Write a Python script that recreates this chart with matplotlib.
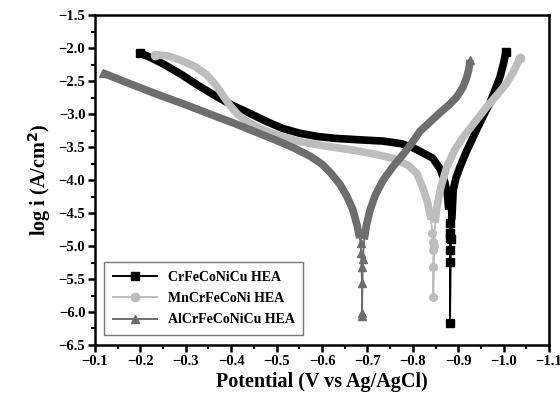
import matplotlib
matplotlib.use("Agg")
import matplotlib.pyplot as plt
from matplotlib.ticker import MultipleLocator, FuncFormatter

plt.rcParams["font.family"] = ["Liberation Serif", "DejaVu Serif"]
plt.rcParams["font.weight"] = "bold"

# --- data (potential V vs Ag/AgCl, log i) ---
# each curve: dense left arm, sparse points near Ecorr, dense right arm
cu_left_x = [-0.200, -0.221, -0.250, -0.290, -0.330, -0.369, -0.400, -0.441, -0.480, -0.514, -0.550,
             -0.589, -0.630, -0.680, -0.734, -0.775, -0.800, -0.820, -0.844, -0.860, -0.870,
             -0.876, -0.879]
cu_left_y = [-2.08, -2.14, -2.24, -2.40, -2.58, -2.74, -2.86, -2.99, -3.12, -3.22, -3.29,
             -3.34, -3.37, -3.39, -3.41, -3.45, -3.51, -3.58, -3.67, -3.83, -4.02,
             -4.20, -4.45]
cu_tail_x = [-0.881, -0.882, -0.882, -0.882, -0.882, -0.882, -0.884]
cu_tail_y = [-4.65, -4.80, -4.88, -5.06, -5.24, -6.17, -4.90]
cu_right_x = [-0.886, -0.889, -0.895, -0.904, -0.918, -0.933, -0.950, -0.970, -0.982, -0.992,
              -1.000, -1.005]
cu_right_y = [-4.60, -4.15, -3.97, -3.80, -3.57, -3.35, -3.10, -2.83, -2.62, -2.44,
              -2.23, -2.06]

mn_left_x = [-0.232, -0.260, -0.287, -0.320, -0.345, -0.365, -0.380, -0.397, -0.415, -0.441, -0.470,
             -0.510, -0.552, -0.611, -0.662, -0.710, -0.756, -0.790, -0.809, -0.822, -0.833,
             -0.840]
mn_left_y = [-2.10, -2.12, -2.18, -2.28, -2.40, -2.55, -2.70, -2.87, -3.01, -3.14, -3.24,
             -3.34, -3.42, -3.49, -3.54, -3.60, -3.67, -3.78, -3.90, -4.12, -4.35,
             -4.60]
mn_tail_x = [-0.843, -0.844, -0.845, -0.845, -0.845, -0.847]
mn_tail_y = [-4.80, -4.94, -5.06, -5.32, -5.77, -5.00]
mn_right_x = [-0.849, -0.853, -0.862, -0.875, -0.892, -0.911, -0.937, -0.963, -0.987, -1.007,
              -1.022, -1.036]
mn_right_y = [-4.65, -4.41, -4.10, -3.80, -3.55, -3.35, -3.12, -2.89, -2.70, -2.53,
              -2.36, -2.15]

al_left_x = [-0.118, -0.180, -0.240, -0.300, -0.360, -0.410, -0.460, -0.500, -0.540, -0.574,
             -0.600, -0.620, -0.640, -0.655, -0.668, -0.677, -0.683]
al_left_y = [-2.38, -2.55, -2.71, -2.86, -3.02, -3.15, -3.29, -3.40, -3.52, -3.64,
             -3.76, -3.90, -4.07, -4.25, -4.45, -4.68, -4.88]
al_tail_x = [-0.685, -0.686, -0.687, -0.688, -0.688, -0.688, -0.690]
al_tail_y = [-4.95, -5.10, -5.32, -5.56, -6.02, -6.06, -5.20]
al_right_x = [-0.693, -0.698, -0.706, -0.718, -0.735, -0.756, -0.780, -0.800, -0.816, -0.838,
              -0.860, -0.880, -0.897, -0.910, -0.919, -0.924, -0.926]
al_right_y = [-4.90, -4.68, -4.45, -4.22, -4.00, -3.80, -3.60, -3.42, -3.26, -3.12,
              -2.98, -2.86, -2.74, -2.60, -2.44, -2.30, -2.18]

series = [
    ("CrFeCoNiCu HEA", cu_left_x, cu_left_y, cu_tail_x, cu_tail_y, cu_right_x, cu_right_y,
     "#000000", "s"),
    ("MnCrFeCoNi HEA", mn_left_x, mn_left_y, mn_tail_x, mn_tail_y, mn_right_x, mn_right_y,
     "#bdbdbd", "o"),
    ("AlCrFeCoNiCu HEA", al_left_x, al_left_y, al_tail_x, al_tail_y, al_right_x, al_right_y,
     "#6e6e6e", "^"),
]

fig = plt.figure(figsize=(5.6, 4.0), dpi=100)
ax = fig.add_axes([0.1696, 0.1375, 0.8108, 0.825])

for label, lx, ly, tx, ty, rx, ry, col, mk in series:
    # thin line + separated markers around the corrosion potential
    ax.plot([lx[-1]] + tx + [rx[0]], [ly[-1]] + ty + [ry[0]], color=col, lw=1.3,
            marker=mk, ms=5.5, markeredgecolor=col, markevery=list(range(1, len(tx) + 1)))
    # thick bands where the dense markers overlap
    ax.plot(lx, ly, color=col, lw=5.5, solid_capstyle="butt", solid_joinstyle="round")
    ax.plot(rx, ry, color=col, lw=5.5, solid_capstyle="butt", solid_joinstyle="round")
    ax.plot(lx[:1], ly[:1], color=col, marker=mk, ms=6, ls="none")
    ax.plot(rx[-1:], ry[-1:], color=col, marker=mk, ms=6, ls="none")
    ax.plot([], [], color=col, lw=1.4, marker=mk, ms=6, label=label)

ax.set_xlim(-0.1, -1.1)
ax.set_ylim(-6.5, -1.5)
fmt = FuncFormatter(lambda v, p: f"{v:.1f}".replace("-", "\u2212"))
ax.xaxis.set_major_locator(MultipleLocator(0.1))
ax.xaxis.set_minor_locator(MultipleLocator(0.05))
ax.yaxis.set_major_locator(MultipleLocator(0.5))
ax.yaxis.set_minor_locator(MultipleLocator(0.25))
ax.xaxis.set_major_formatter(fmt)
ax.yaxis.set_major_formatter(fmt)
ax.tick_params(which="major", direction="out", length=5, width=1.8, labelsize=10.5, pad=2)
ax.tick_params(which="minor", direction="out", length=3, width=1.5)
for s in ax.spines.values():
    s.set_linewidth(1.8)

ax.set_xlabel("Potential (V vs Ag/AgCl)", fontsize=14.5, fontweight="bold", labelpad=3)
ax.set_ylabel("log i (A/cm$^{\\mathbf{2}}$)", fontsize=14.5, fontweight="bold", labelpad=4)

leg = ax.legend(loc="lower left", bbox_to_anchor=(0.005, 0.01), fontsize=10,
                frameon=True, fancybox=False, edgecolor="#555555",
                handlelength=3.2, borderpad=0.6, labelspacing=0.6)
leg.get_frame().set_linewidth(1.0)
for t in leg.get_texts():
    t.set_fontweight("bold")

fig.savefig("out.png", dpi=100)
